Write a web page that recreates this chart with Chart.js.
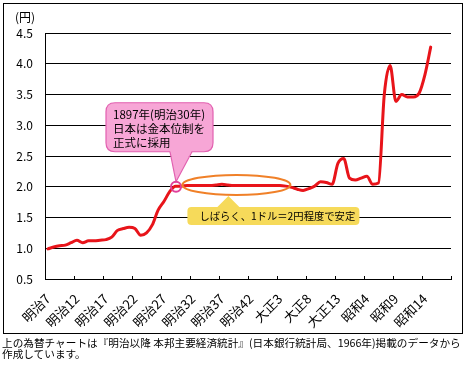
<!DOCTYPE html>
<html><head><meta charset="utf-8">
<script src="https://cdn.jsdelivr.net/npm/chart.js@4/dist/chart.umd.min.js"></script>
<style>
html,body{margin:0;padding:0;background:#fff;}
#wrap{position:relative;width:468px;height:368px;overflow:hidden;}
#c{position:absolute;left:0;top:0;}
#frame{position:absolute;left:3px;top:3px;width:460px;height:331px;border:1px solid #000;box-sizing:border-box;pointer-events:none;}
#cap{position:absolute;left:2px;top:337px;font-family:"Noto Sans CJK JP",sans-serif;font-size:10.65px;line-height:11px;white-space:nowrap;color:#000;}
</style></head>
<body>
<div id="wrap">
<canvas id="c" width="468" height="333"></canvas>
<div id="frame"></div>
<div id="cap">上の為替チャートは『明治以降 本邦主要経済統計』(日本銀行統計局、1966年)掲載のデータから<br>作成しています。</div>
</div>
<script>
// categories: years 1874 (明治7) .. 1943
const categories = [1874,1875,1876,1877,1878,1879,1880,1881,1882,1883,1884,1885,1886,1887,1888,1889,1890,1891,1892,1893,1894,1895,1896,1897,1898,1899,1900,1901,1902,1903,1904,1905,1906,1907,1908,1909,1910,1911,1912,1913,1914,1915,1916,1917,1918,1919,1920,1921,1922,1923,1924,1925,1926,1927,1928,1929,1930,1931,1932,1933,1934,1935,1936,1937,1938,1939,1940,1941,1942,1943];
const tickLabels = ['明治7','明治12','明治17','明治22','明治27','明治32','明治37','明治42','大正3','大正8','大正13','昭和4','昭和9','昭和14'];
// yen per US dollar
const rates = [0.99,1.02,1.04,1.05,1.09,1.13,1.09,1.12,1.12,1.13,1.14,1.18,1.29,1.32,1.34,1.32,1.21,1.25,1.38,1.62,1.76,1.92,2.01,2.01,
  2.02,2.02,2.02,2.02,2.02,2.03,2.04,2.03,2.02,2.02,2.02,2.02,2.02,2.02,2.02,2.02,2.02,
  2.01,1.99,1.96,1.94,1.97,2.01,2.08,2.07,2.04,2.38,2.46,2.14,2.11,2.14,2.17,2.04,2.06,
  3.50,3.97,3.39,3.50,3.46,3.46,3.52,3.82,4.27];
const yTicks = {min:0.5, max:4.5, step:0.5};
const unitLabel = '(円)';
const note1 = ['1897年(明治30年)','日本は金本位制を','正式に採用'];
const note2 = 'しばらく、1ドル＝2円程度で安定';
const FONT = '"Noto Sans CJK JP", sans-serif';

function rr(ctx,x,y,w,h,r){ctx.beginPath();ctx.moveTo(x+r,y);ctx.lineTo(x+w-r,y);ctx.quadraticCurveTo(x+w,y,x+w,y+r);ctx.lineTo(x+w,y+h-r);ctx.quadraticCurveTo(x+w,y+h,x+w-r,y+h);ctx.lineTo(x+r,y+h);ctx.quadraticCurveTo(x,y+h,x,y+h-r);ctx.lineTo(x,y+r);ctx.quadraticCurveTo(x,y,x+r,y);ctx.closePath();}
function fitFont(ctx,text,target,base){ctx.font=base+'px '+FONT;const w=ctx.measureText(text).width;return base*target/w;}

const annot = {
  id:'annot',
  afterDatasetsDraw(chart){
    const {ctx, chartArea:a, scales:{x,y}} = chart;
    const n = categories.length;
    ctx.save();
    // inward tick marks every 5 categories
    ctx.strokeStyle='#000'; ctx.lineWidth=1;
    for(let k=0;k<=n;k+=5){
      const px=Math.round(a.left+(a.right-a.left)*k/n)+0.5;
      ctx.beginPath(); ctx.moveTo(px,a.bottom); ctx.lineTo(px,a.bottom-3); ctx.stroke();
    }
    // unit label
    ctx.fillStyle='#000'; ctx.font='12px '+FONT; ctx.textAlign='center'; ctx.textBaseline='middle';
    ctx.fillText(unitLabel,25,17);

    // circle at 1897
    const cx = x.getPixelForValue(22)+0.5, cy = y.getPixelForValue(2.0);
    // pink callout
    ctx.fillStyle='rgb(247,166,214)'; ctx.strokeStyle='rgb(226,96,176)'; ctx.lineWidth=1.2;
    const bx=cx-70, by=cy-84, bw=107, bh=49;
    rr(ctx,bx,by,bw,bh,9);
    ctx.fill(); ctx.stroke();
    ctx.beginPath(); ctx.moveTo(cx-6,by+bh-1); ctx.lineTo(cx,cy-5); ctx.lineTo(cx+16,by+bh-1); ctx.closePath();
    ctx.fill();
    ctx.beginPath(); ctx.moveTo(cx-6,by+bh); ctx.lineTo(cx,cy-5); ctx.lineTo(cx+16,by+bh); ctx.stroke();
    ctx.fillStyle='#000'; ctx.font='11.5px '+FONT; ctx.textAlign='left'; ctx.textBaseline='middle';
    note1.forEach((t,i)=>ctx.fillText(t,bx+7,by+12+i*14));
    // magenta circle
    ctx.strokeStyle='rgb(224,64,154)'; ctx.lineWidth=2;
    ctx.beginPath(); ctx.arc(cx,cy,5,0,Math.PI*2); ctx.stroke();

    // orange ellipse
    const ex=(x.getPixelForValue(32)+x.getPixelForValue(33))/2, ey=y.getPixelForValue(2.03);
    ctx.strokeStyle='rgb(240,128,40)'; ctx.lineWidth=2;
    ctx.beginPath(); ctx.ellipse(ex,ey,54,10,0,0,Math.PI*2); ctx.stroke();
    // yellow callout
    ctx.fillStyle='rgb(246,218,90)';
    const yx=ex-49, yy=ey+22, yw=172, yh=18;
    rr(ctx,yx,yy,yw,yh,4); ctx.fill();
    ctx.beginPath(); ctx.moveTo(ex-20,yy+1); ctx.lineTo(ex-8,ey+11); ctx.lineTo(ex+4,yy+1); ctx.closePath(); ctx.fill();
    const fs = fitFont(ctx,note2,156,11);
    ctx.fillStyle='#000'; ctx.font=fs.toFixed(2)+'px '+FONT;
    ctx.fillText(note2,yx+12,yy+yh/2+0.5);
    ctx.restore();
  }
};

new Chart(document.getElementById('c'),{
  type:'line',
  data:{labels:categories, datasets:[{data:rates, borderColor:'rgb(232,20,26)', borderWidth:3, pointRadius:0,
    cubicInterpolationMode:'monotone', borderCapStyle:'round', borderJoinStyle:'round', fill:false}]},
  options:{
    responsive:false, animation:false, devicePixelRatio:1,
    layout:{padding:{left:0,top:33,right:17,bottom:0}},
    plugins:{legend:{display:false}, tooltip:{enabled:false}},
    scales:{
      x:{type:'category', offset:true,
        grid:{display:false, offset:true},
        border:{display:true, color:'#000', width:1},
        ticks:{autoSkip:false, maxRotation:45, minRotation:45, color:'#000', padding:4,
          font:{family:FONT, size:13},
          callback:(v,i)=> i%5===0 ? tickLabels[i/5] : ''},
        afterFit:s=>{s.height=54;}
      },
      y:{min:yTicks.min, max:yTicks.max,
        ticks:{stepSize:yTicks.step, callback:v=>v.toFixed(1), color:'#000', padding:12, font:{family:FONT, size:12}},
        grid:{color:'#000', lineWidth:1, drawTicks:false},
        border:{display:true, color:'#000', width:1},
        afterFit:s=>{s.width=45;}
      }
    }
  },
  plugins:[annot]
});
</script>
</body></html>
